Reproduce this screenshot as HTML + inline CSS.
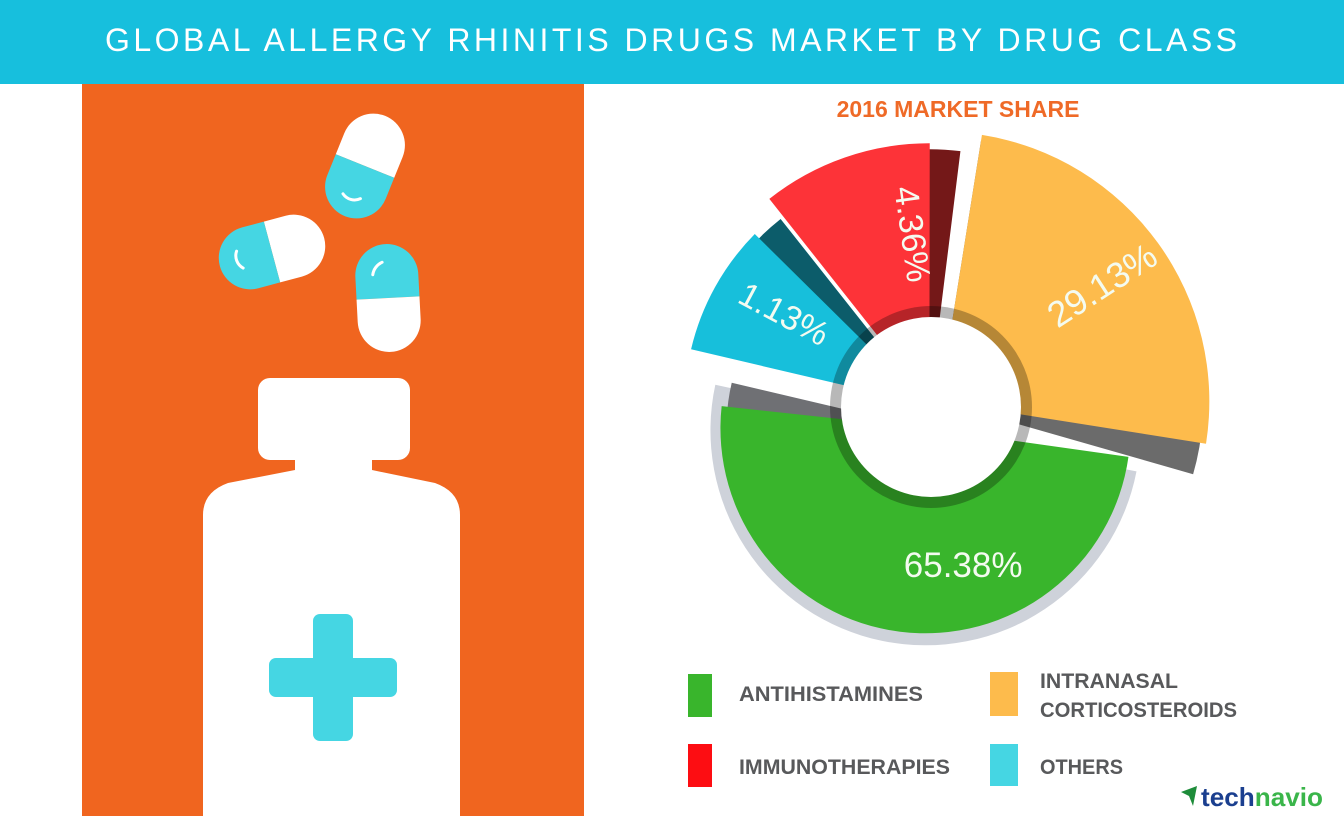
<!DOCTYPE html>
<html><head><meta charset="utf-8">
<style>
html,body{margin:0;padding:0;background:#fff;}
svg{display:block;font-family:"Liberation Sans",sans-serif;}
</style></head>
<body>
<svg id="chart" width="1344" height="816" viewBox="0 0 1344 816" xmlns="http://www.w3.org/2000/svg">
  <rect x="0" y="0" width="1344" height="84" fill="#17bfdd"/>
  <text x="105" y="51" font-size="32" fill="#fff" textLength="1132" lengthAdjust="spacing">GLOBAL ALLERGY RHINITIS DRUGS MARKET BY DRUG CLASS</text>

  <rect x="82" y="84" width="502" height="732" fill="#f0651f"/>
  <g id="pills"></g>
  <g>
    <rect x="258" y="378" width="152" height="82" rx="12" fill="#fff"/>
    <path d="M295,458 L372,458 L372,470 L435,483 Q460,492 460,515 L460,816 L203,816 L203,515 Q203,492 228,483 L295,470 Z" fill="#fff"/>
    <rect x="313" y="614" width="40" height="127" rx="7" fill="#45d6e3"/>
    <rect x="269" y="658" width="128" height="39" rx="7" fill="#45d6e3"/>
  </g>

  <text x="958" y="117" font-size="23" font-weight="bold" fill="#ef6a27" text-anchor="middle">2016 MARKET SHARE</text>
  <g id="donut"></g>

  <g font-weight="bold" font-size="21" fill="#58595b">
    <rect x="688" y="674" width="24" height="43" fill="#39b52c"/>
    <text x="739" y="701" textLength="184" lengthAdjust="spacingAndGlyphs">ANTIHISTAMINES</text>
    <rect x="990" y="672" width="28" height="44" fill="#fdbb4c"/>
    <text x="1040" y="688" textLength="138" lengthAdjust="spacingAndGlyphs">INTRANASAL</text>
    <text x="1040" y="717" textLength="197" lengthAdjust="spacingAndGlyphs">CORTICOSTEROIDS</text>
    <rect x="688" y="744" width="24" height="43" fill="#fd0d12"/>
    <text x="739" y="774" textLength="211" lengthAdjust="spacingAndGlyphs">IMMUNOTHERAPIES</text>
    <rect x="990" y="744" width="28" height="42" fill="#45d6e3"/>
    <text x="1040" y="774" textLength="83" lengthAdjust="spacingAndGlyphs">OTHERS</text>
  </g>

  <g>
    <path d="M1181,792 L1197,786 L1193,806 L1189,796 Z" fill="#1e8c3a"/>
    <text x="1201" y="806" font-size="26" font-weight="bold" textLength="122" lengthAdjust="spacingAndGlyphs"><tspan fill="#1b3f8f">tech</tspan><tspan fill="#3ab54a">navio</tspan></text>
  </g>
</svg>
<script>
const categories = ["Antihistamines", "Others", "Immunotherapies", "Intranasal Corticosteroids"];
const values = [65.38, 1.13, 4.36, 29.13];
const valueLabels = ["65.38%", "1.13%", "4.36%", "29.13%"];

const NS = "http://www.w3.org/2000/svg";
const cx = 931, cy = 407;
const startAngle = 106;
const minSweep = 36;
const colors = ["#39b52c", "#17bfdb", "#fd3338", "#fdbb4c"];
const shadowColors = ["#6f7074", "#0c5c6a", "#741818", "#6b6b6b"];
const radii = [205, 243, 258, 270];
const offsets = [22, 4, 6, 10];
const leadExtend = [8, 0, 0, -2];
const labelShift = [-30, 0, 10, -2];
const labelRadius = [142, 170, 168, 200];
const labelRot = [0, 28, 82, -33];
const labelSize = [35, 34, 34, 36];

function total(){ return values.reduce((a,b)=>a+b,0); }
function sweepOf(v){ return minSweep + v / total() * (360 - minSweep * values.length); }
function pt(x, y, r, a){ const t = a * Math.PI / 180; return [x + r * Math.sin(t), y - r * Math.cos(t)]; }
function wedge(x, y, r0, r1, a0, a1){
  const large = (a1 - a0) > 180 ? 1 : 0;
  const p0 = pt(x,y,r1,a0), p1 = pt(x,y,r1,a1), p2 = pt(x,y,r0,a1), p3 = pt(x,y,r0,a0);
  return `M${p0[0]},${p0[1]} A${r1},${r1} 0 ${large} 1 ${p1[0]},${p1[1]} L${p2[0]},${p2[1]} A${r0},${r0} 0 ${large} 0 ${p3[0]},${p3[1]} Z`;
}

const donut = document.getElementById("donut");
let a = startAngle;
const sl = [];
values.forEach((v, i) => {
  const sw = sweepOf(v);
  const a0 = a, a1 = a + sw;
  const mid = (a0 + a1) / 2;
  const c = pt(cx, cy, offsets[i], mid);
  sl.push({a0, a1, mid, c});
  a = a1;
});
{
  const s = sl[0];
  const ring = document.createElementNS(NS, "path");
  
  
  ring.setAttribute("d", wedge(s.c[0], s.c[1] + 2, 60, radii[0] + 10, s.a0 - leadExtend[0] + 3, s.a1 - 1));
  ring.setAttribute("fill", "#ced2da");
  donut.appendChild(ring);
}
sl.forEach((s, i) => {
  const sh = document.createElementNS(NS, "path");
  
  
  sh.setAttribute("d", wedge(s.c[0], s.c[1], 60, radii[i] - 6, s.a0 + 2, s.a1));
  sh.setAttribute("fill", shadowColors[i]);
  donut.appendChild(sh);
});
sl.forEach((s, i) => {
  const p = document.createElementNS(NS, "path");
  
  
  p.setAttribute("d", wedge(s.c[0], s.c[1], 60, radii[i], s.a0 - leadExtend[i], s.a1 - 7));
  p.setAttribute("fill", colors[i]);
  donut.appendChild(p);
});
const ringDark = document.createElementNS(NS, "circle");


ringDark.setAttribute("cx", cx); ringDark.setAttribute("cy", cy); ringDark.setAttribute("r", 101);
ringDark.setAttribute("fill", "rgba(0,0,0,0.28)");
donut.appendChild(ringDark);
const hole = document.createElementNS(NS, "circle");


hole.setAttribute("cx", cx); hole.setAttribute("cy", cy); hole.setAttribute("r", 90);
hole.setAttribute("fill", "#fff");
donut.appendChild(hole);
sl.forEach((s, i) => {
  const lp = pt(s.c[0], s.c[1], labelRadius[i], s.mid + labelShift[i]);
  const t = document.createElementNS(NS, "text");
  
  
  t.setAttribute("x", lp[0]); t.setAttribute("y", lp[1] + 12);
  t.setAttribute("text-anchor", "middle");
  t.setAttribute("font-size", labelSize[i]);
  t.setAttribute("fill", "#f4fbf0");
  t.setAttribute("transform", `rotate(${labelRot[i]} ${lp[0]} ${lp[1]})`);
  t.textContent = valueLabels[i];
  donut.appendChild(t);
});

const pills = document.getElementById("pills");
function pill(x, y, rot, cyanTop){
  const L = 108, r = 31.5, h = L/2 - r;
  const g = document.createElementNS(NS, "g");
  
  
  g.setAttribute("transform", `translate(${x},${y}) rotate(${rot})`);
  const top = `M${-r},0 L${-r},${-h} A${r},${r} 0 0 1 ${r},${-h} L${r},0 Z`;
  const bot = `M${-r},0 L${-r},${h} A${r},${r} 0 0 0 ${r},${h} L${r},0 Z`;
  g.innerHTML = `<path d="${top}" fill="${cyanTop ? '#45d6e3' : '#fff'}"/><path d="${bot}" fill="${cyanTop ? '#fff' : '#45d6e3'}"/>` +
    (cyanTop ? `<path d="M-14,-24 A16,16 0 0 1 -4,-36" stroke="#fff" stroke-width="3" fill="none" stroke-linecap="round"/>`
             : `<path d="M-10,34 A14,14 0 0 0 8,32" stroke="#fff" stroke-width="3" fill="none" stroke-linecap="round"/>`);
  pills.appendChild(g);
}
pill(365, 166, 22, false);
pill(272, 252, 75, false);
pill(388, 298, -3, true);
</script>
</body></html>
